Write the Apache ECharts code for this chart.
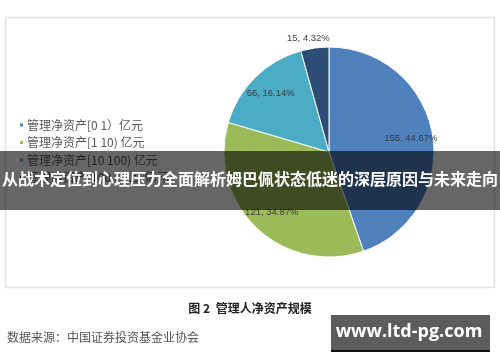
<!DOCTYPE html>
<html><head><meta charset="utf-8">
<script src="https://cdn.jsdelivr.net/npm/echarts@6/dist/echarts.min.js"></script>
<style>html,body{margin:0;padding:0;background:#fff}#c{width:500px;height:362px}</style>
</head><body><div id="c"></div>
<script>
var categories = ['管理净资产[0 1）亿元', '管理净资产[1 10) 亿元', '管理净资产[10 100) 亿元', '管理净资产[100 以上) 亿元'];
var values = [155, 121, 56, 15];
var colors = ['#4f81bd', '#9bbb59', '#4bacc6', '#2c4d75'];
var bannerText = '从战术定位到心理压力全面解析姆巴佩状态低迷的深层原因与未来走向';
var captionText = '图 2  管理人净资产规模';
var sourceText = '数据来源：中国证券投资基金业协会';
var watermarkText = 'www.ltd-pg.com';

var chart = echarts.init(document.getElementById('c'), null, {renderer: 'canvas'});
var cjk = '"Noto Sans CJK SC", "Noto Sans", sans-serif';

var mainData = categories.map(function (n, i) {
  return { name: n, value: values[i], itemStyle: { color: colors[i] },
    label: { show: i === 3 } };
});
var ringData = categories.map(function (n, i) {
  return { name: n, value: values[i], label: { show: i !== 3 } };
});

chart.setOption({
  animation: false,
  backgroundColor: '#fff',
  legend: {
    orient: 'vertical', left: 13, top: 114,
    itemWidth: 5, itemHeight: 5, itemGap: 5.5, icon: 'rect',
    textStyle: { fontSize: 12, color: '#595959', fontFamily: cjk, padding: [0, 0, 0, -2] },
    data: categories
  },
  graphic: [
    { type: 'rect', z: -1, shape: { x: 5.5, y: 17.5, width: 489, height: 270 },
      style: { fill: '#fff', stroke: '#e3e3e3', lineWidth: 1.5 } },
    { type: 'text', left: 'center', top: 302, z: 5,
      style: { text: captionText, font: 'bold 12px ' + cjk, fill: '#222' } },
    { type: 'text', left: 7, top: 331, z: 5,
      style: { text: sourceText, font: '12px ' + cjk, fill: '#555' } },
    { type: 'rect', z: 100, shape: { x: 0, y: 151, width: 500, height: 59 },
      style: { fill: 'rgba(0,0,0,0.6)' } },
    { type: 'text', z: 101, left: 'center', top: 171,
      style: { text: bannerText, font: 'bold 16px ' + cjk, fill: '#fff' } },
    { type: 'rect', z: 100, shape: { x: 331, y: 315, width: 159, height: 35 },
      style: { fill: '#5c5c5c' } },
    { type: 'rect', z: 100, shape: { x: 331, y: 350, width: 159, height: 2 },
      style: { fill: '#111' } },
    { type: 'text', z: 101, x: 409, y: 332,
      style: { text: watermarkText, font: 'bold 18px "Open Sans", "DejaVu Sans", sans-serif', fill: '#fff',
        align: 'center', verticalAlign: 'middle' } }
  ],
  series: [
    {
      type: 'pie', center: [329, 152], radius: [0, 105], startAngle: 90, clockwise: true,
      itemStyle: { borderColor: '#fff', borderWidth: 1 },
      label: { position: 'outside', formatter: '{c}, {d}%', fontSize: 9.5, color: '#3a3a3a',
        fontFamily: '"Liberation Sans", Arial, sans-serif' },
      labelLine: { show: false, length: 10, length2: 0 },
      labelLayout: function (p) { return { align: 'center', verticalAlign: 'middle' }; },
      emphasis: { disabled: true },
      data: mainData
    },
    {
      type: 'pie', center: [329, 152], radius: [55, 105], startAngle: 90, clockwise: true, silent: true,
      itemStyle: { color: 'rgba(0,0,0,0)', borderWidth: 0 },
      label: { position: 'inside', formatter: '{c}, {d}%', fontSize: 9.5, color: '#3a3a3a',
        fontFamily: '"Liberation Sans", Arial, sans-serif' },
      labelLine: { show: false },
      emphasis: { disabled: true },
      data: ringData
    }
  ]
});
</script></body></html>
